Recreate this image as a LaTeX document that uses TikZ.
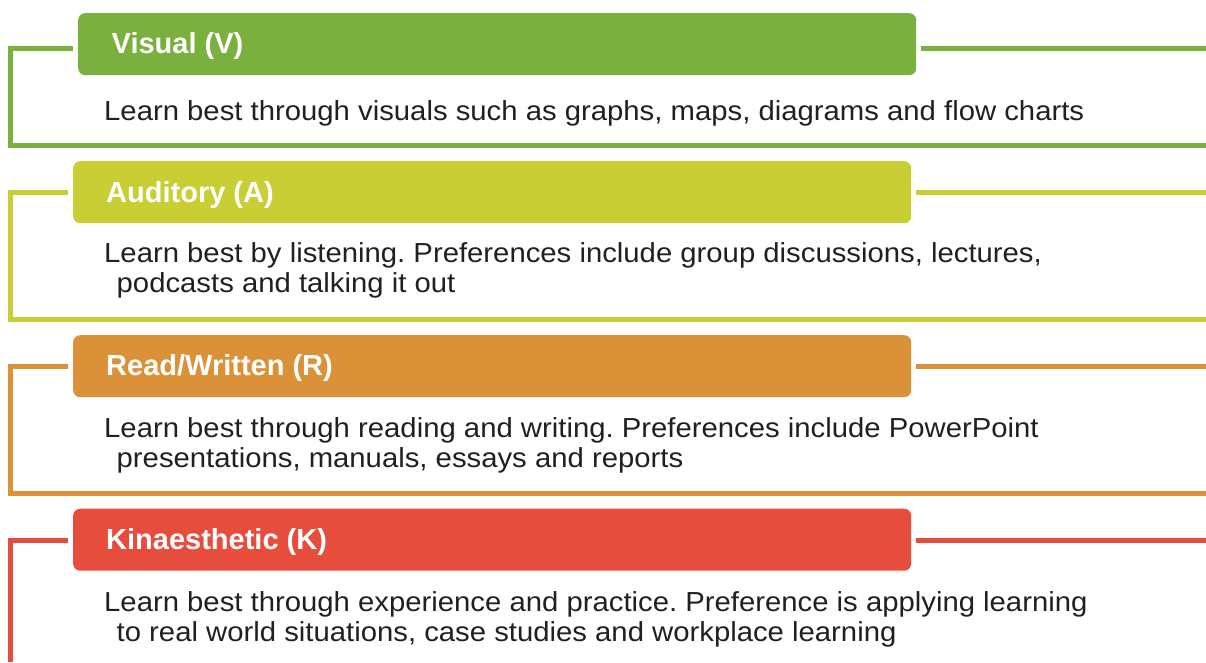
\documentclass[tikz,border=0pt]{standalone}
\usepackage{fontspec}
\setmainfont{Liberation Sans}
\newfontfamily\bodyfont[FakeStretch=1.065]{Liberation Sans}
\frenchspacing
\definecolor{cV}{RGB}{122,176,61}
\definecolor{cA}{RGB}{201,206,52}
\definecolor{cR}{RGB}{219,145,55}
\definecolor{cK}{RGB}{231,77,61}
\definecolor{bodyink}{RGB}{35,31,32}
\tikzset{
  hdr/.style={anchor=north west, rounded corners=7pt, minimum width=838pt,
    minimum height=62pt, inner sep=0pt, draw=none},
  ttl/.style={anchor=base west, inner sep=0pt, text=white,
    font=\fontsize{29}{31}\selectfont\bfseries},
  % multi-line bodies are placed by the baseline of their last line
  body/.style={anchor=base west, inner sep=0pt, align=left, text=bodyink,
    font=\bodyfont\fontsize{27.5}{30}\selectfont},
  frame/.style={line width=5pt, line join=miter, line cap=butt},
}
\begin{document}
\begin{tikzpicture}[x=1pt, y=-1pt]
\useasboundingbox (0,0) rectangle (1206,662);

% Visual
\node[hdr, fill=cV] (hV) at (78,13) {};
\node[ttl] (tV) at (111.5,53.5) {Visual (V)};
\node[body] (bV) at (104,120.5) {Learn best through visuals such as graphs, maps, diagrams and flow charts};
\draw[frame, cV] (73,48.5) -- (10,48.5) -- (10,145) -- (1206,145);
\draw[frame, cV] (921,48.5) -- (1206,48.5);

% Auditory
\node[hdr, fill=cA] (hA) at (73,161) {};
\node[ttl] (tA) at (106,202.5) {Auditory (A)};
\node[body] (bA) at (104,292) {Learn best by listening. Preferences include group discussions, lectures,\\
  \hspace*{12.5pt}podcasts and talking it out};
\draw[frame, cA] (68,192) -- (10,192) -- (10,319) -- (1206,319);
\draw[frame, cA] (916,192) -- (1206,192);

% Read/Written
\node[hdr, fill=cR] (hR) at (73,335) {};
\node[ttl] (tR) at (106,375.5) {Read/Written (R)};
\node[body] (bR) at (104,467) {Learn best through reading and writing. Preferences include PowerPoint\\
  \hspace*{12.5pt}presentations, manuals, essays and reports};
\draw[frame, cR] (68,366) -- (10,366) -- (10,493) -- (1206,493);
\draw[frame, cR] (916,366) -- (1206,366);

% Kinaesthetic
\node[hdr, fill=cK] (hK) at (73,508.5) {};
\node[ttl] (tK) at (106,549.5) {Kinaesthetic (K)};
\node[body] (bK) at (104,641) {Learn best through experience and practice. Preference is applying learning\\
  \hspace*{12.5pt}to real world situations, case studies and workplace learning};
\draw[frame, cK] (68,540) -- (10,540) -- (10,662);
\draw[frame, cK] (916,540) -- (1206,540);
\end{tikzpicture}
\end{document}
